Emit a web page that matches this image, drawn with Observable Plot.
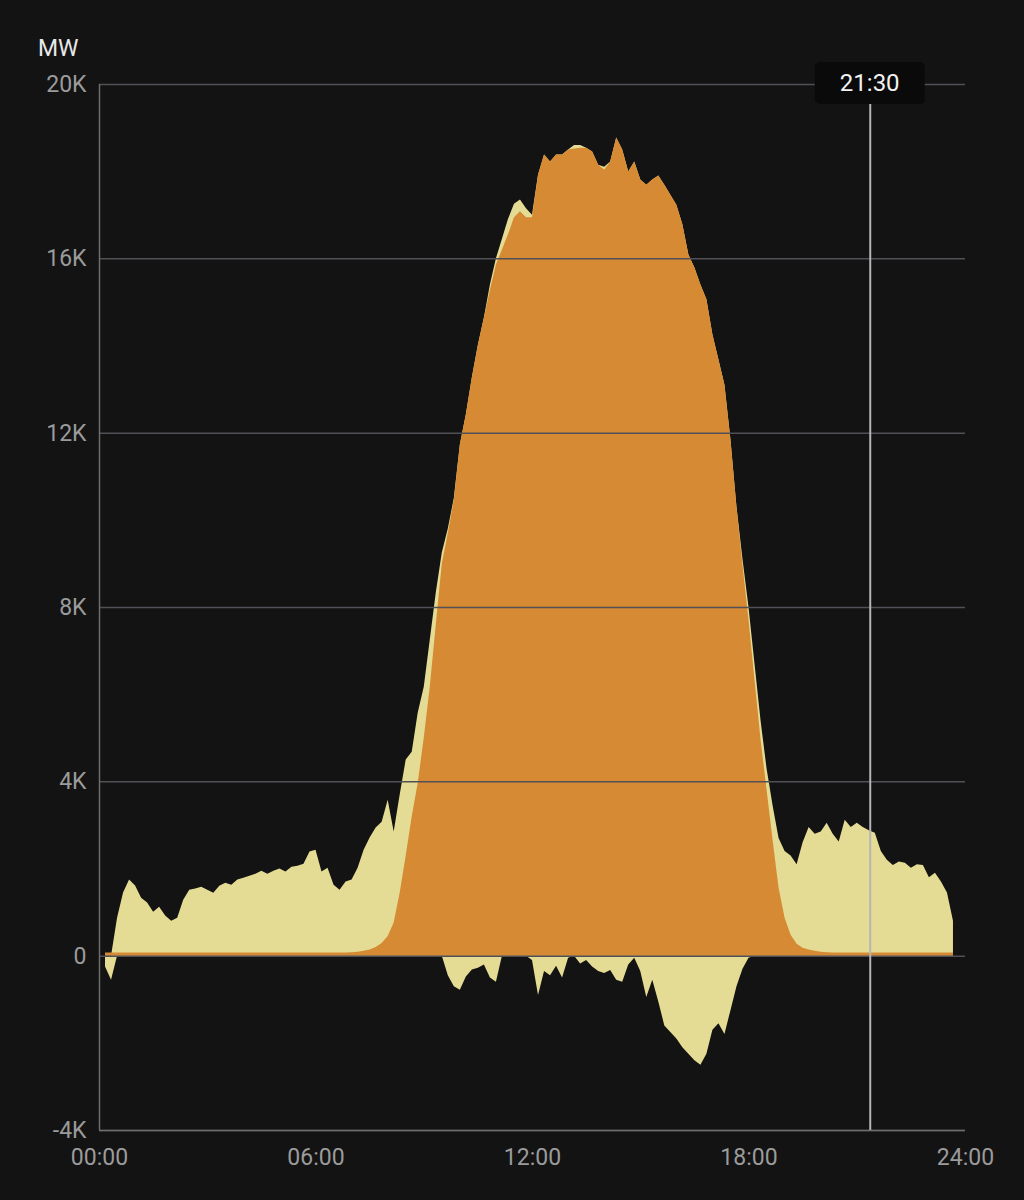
<!DOCTYPE html>
<html><head><meta charset="utf-8">
<script src="https://cdn.jsdelivr.net/npm/d3@7"></script>
<script src="https://cdn.jsdelivr.net/npm/@observablehq/plot@0.6"></script>
<style>
html,body{margin:0;padding:0;background:#131313;}
#chart{width:1024px;height:1200px;}
</style></head><body><div id="chart"></div>
<script>
// sampling: first sample at 00:10, one sample every 10 minutes
const startMinute = 10;
const stepMinutes = 10;

// upper (positive) envelope of the light series, MW
const lightTop = [
  0,0,870,1450,1745,1610,1330,1220,1010,1125,
  920,800,870,1285,1515,1540,1580,1515,1445,1605,
  1675,1630,1745,1790,1835,1880,1950,1880,1950,2000,
  1930,2040,2065,2110,2390,2430,1930,2020,1630,1515,
  1700,1745,2020,2430,2710,2940,3075,3580,2850,3700,
  4500,4680,5580,6170,7250,8330,9250,9800,10500,11730,
  12420,13270,14020,14640,15400,16000,16450,16900,17250,17350,
  17150,17000,17920,18380,18220,18380,18380,18500,18600,18600,
  18540,18450,18150,18100,18220,18770,18500,17990,18220,17810,
  17690,17810,17900,17690,17460,17230,16780,16090,15790,15400,
  15060,14250,13680,13100,11840,10300,9100,8000,6700,5400,
  4300,3450,2700,2400,2300,2100,2600,2950,2800,2850,
  3050,2800,2620,3120,2950,3050,2950,2880,2820,2400,
  2200,2080,2160,2130,2020,2100,2080,1800,1900,1700,
  1450,800
];
// negative part of the light series, MW
const lightNeg = [
  -250,-550,0,0,0,0,0,0,0,0,
  0,0,0,0,0,0,0,0,0,0,
  0,0,0,0,0,0,0,0,0,0,
  0,0,0,0,0,0,0,0,0,0,
  0,0,0,0,0,0,0,0,0,0,
  0,0,0,0,0,0,0,-450,-700,-780,
  -480,-320,-280,-200,-500,-600,0,0,0,0,
  0,-100,-900,-350,-450,-230,-500,-50,0,-180,
  -100,-250,-350,-400,-330,-550,-600,-200,-50,-350,
  -950,-550,-1050,-1600,-1750,-1900,-2100,-2250,-2400,-2500,
  -2250,-1700,-1550,-1800,-1250,-700,-300,-50,0,0,
  0,0,0,0,0,0,0,0,0,0,
  0,0,0,0,0,0,0,0,0,0,
  0,0,0,0,0,0,0,0,0,0,
  0,0
];
// orange series (solar), MW
const solar = [
  70,70,70,70,70,70,70,70,70,70,
  70,70,70,70,70,70,70,70,70,70,
  70,70,70,70,70,70,70,70,70,70,
  70,70,70,70,70,70,70,70,70,70,
  75,80,90,110,140,200,290,450,760,1450,
  2300,3200,3970,5000,6170,7600,9000,9700,10460,11730,
  12420,13270,14020,14640,15280,15860,16200,16550,16940,17080,
  16940,16940,17920,18380,18220,18380,18380,18500,18520,18540,
  18540,18450,18150,18040,18220,18770,18500,17990,18220,17810,
  17690,17810,17900,17690,17460,17230,16780,16090,15790,15400,
  15060,14250,13680,13100,11840,10300,8970,7710,6330,4960,
  3810,2660,1560,870,480,275,180,140,110,90,
  80,75,70,70,70,70,70,70,70,70,
  70,70,70,70,70,70,70,70,70,70,
  70,70
];

const yTicks = [-4000, 0, 4000, 8000, 12000, 16000, 20000];
const xTicks = [0, 6, 12, 18, 24];
const xTickLabels = ["00:00", "06:00", "12:00", "18:00", "24:00"];
const unitLabel = "MW";
const cursorHour = 21.36;
const cursorLabel = "21:30";

const LIGHT = "#e4dc94";
const ORANGE = "#d68a34";
const GRID = "#505056";
const FRAME = "#6c6c6c";

const rows = solar.map((v, i) => ({
  h: (startMinute + i * stepMinutes) / 60,
  solar: v,
  top: lightTop[i],
  neg: lightNeg[i]
}));

const fmtY = d => d === 0 ? "0" : (d / 1000) + "K";
const fmtX = d => xTickLabels[xTicks.indexOf(d)];

const plot = Plot.plot({
  width: 1024,
  height: 1200,
  marginLeft: 99,
  marginRight: 59,
  marginTop: 84,
  marginBottom: 70,
  style: {background: "#131313", color: "#9b9b9b", fontFamily: "Roboto, 'Noto Sans', sans-serif", fontSize: "23px", overflow: "visible"},
  x: {domain: [0, 24], label: null},
  y: {domain: [-4000, 20000], label: null},
  marks: [
    Plot.areaY(rows, {x: "h", y: "top", fill: LIGHT}),
    Plot.areaY(rows, {x: "h", y: "neg", fill: LIGHT}),
    Plot.areaY(rows, {x: "h", y: "solar", fill: ORANGE}),
    Plot.gridY(yTicks, {stroke: GRID, strokeOpacity: 1, strokeWidth: 1.5}),
    Plot.ruleY([-4000], {stroke: FRAME, strokeWidth: 1.5}),
    Plot.ruleX([0], {stroke: FRAME, strokeWidth: 1.5}),
    Plot.ruleX([cursorHour], {y1: -4000, y2: 20000, stroke: "#b5b5b5", strokeWidth: 2}),
    Plot.axisY(yTicks, {tickSize: 0, tickPadding: 13, tickFormat: fmtY, fontSize: 23, fill: "#9b9b9b"}),
    Plot.axisX(xTicks, {tickSize: 0, tickPadding: 18, tickFormat: fmtX, fontSize: 23, fill: "#9b9b9b"})
  ]
});

document.getElementById("chart").appendChild(plot);

// cursor label box and unit label
const svg = d3.select(plot);
const cx = plot.scale("x").apply(cursorHour);
const g = svg.append("g");
g.append("rect")
  .attr("x", cx - 55).attr("y", 62).attr("width", 110).attr("height", 42)
  .attr("rx", 5).attr("fill", "#0a0a0a");
g.append("text")
  .attr("x", cx).attr("y", 83).attr("dy", "0.35em")
  .attr("text-anchor", "middle")
  .attr("fill", "#f2f2f2").attr("font-size", 24)
  .text(cursorLabel);
svg.append("text")
  .attr("x", 38).attr("y", 56)
  .attr("text-anchor", "start")
  .attr("fill", "#e8e8e8").attr("font-size", 23)
  .text(unitLabel);
</script>
</body></html>
